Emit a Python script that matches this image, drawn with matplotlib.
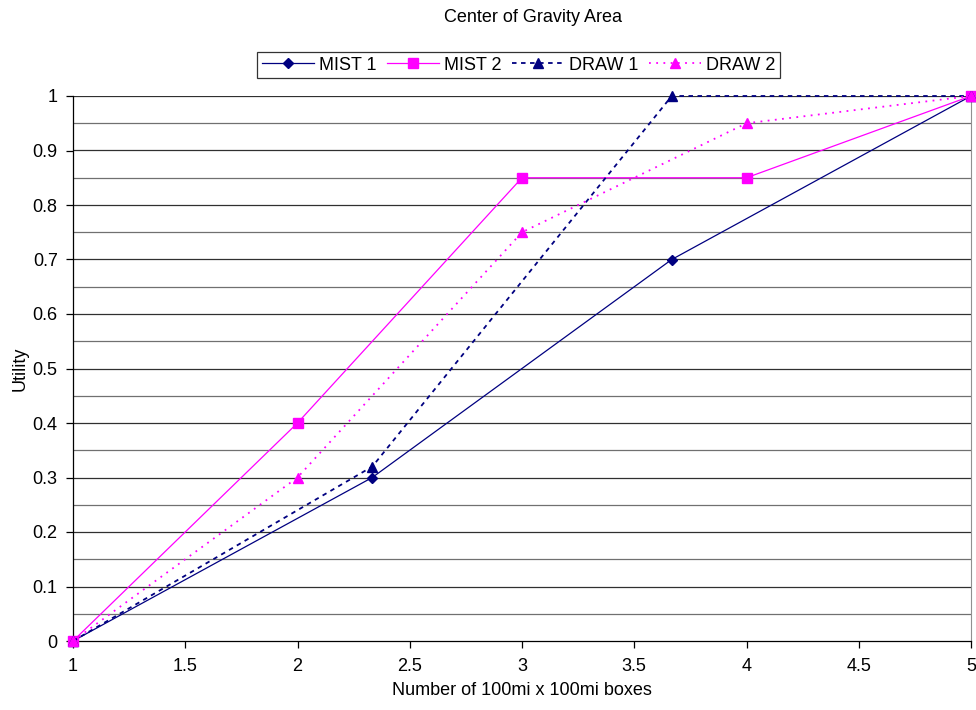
import matplotlib
matplotlib.use("Agg")
import matplotlib.pyplot as plt
import numpy as np

plt.rcParams['font.family'] = ['Liberation Sans', 'DejaVu Sans']

mist1_x = [1, 2.333, 3.667, 5]
mist1_y = [0, 0.30, 0.70, 1.0]
mist2_x = [1, 2, 3, 4, 5]
mist2_y = [0, 0.40, 0.85, 0.85, 1.0]
draw1_x = [1, 2.333, 3.667, 5]
draw1_y = [0, 0.32, 1.0, 1.0]
draw2_x = [1, 2, 3, 4, 5]
draw2_y = [0, 0.30, 0.75, 0.95, 1.0]

navy = '#000080'
mag = '#FF00FF'
FS = 13

fig = plt.figure(figsize=(9.76, 7.10), dpi=100)
ax = fig.add_axes([73/976, 1-641/710, (971-73)/976, (641-96)/710])

for yv in np.arange(0.05, 1.0001, 0.05):
    ax.axhline(yv, color='#303030' if abs(yv*10 - round(yv*10)) < 1e-6 else '#707070', lw=0.9, zorder=1)

ax.plot(mist1_x, mist1_y, color=navy, lw=0.9, marker='D', ms=5, label='MIST 1', zorder=3, clip_on=False)
ax.plot(mist2_x, mist2_y, color=mag, lw=0.9, marker='s', ms=6.5, label='MIST 2', zorder=3, clip_on=False)
ax.plot(draw1_x, draw1_y, color=navy, lw=1.3, ls=(0, (2.5, 2.5)), marker='^', ms=6.5, label='DRAW 1', zorder=3, clip_on=False)
ax.plot(draw2_x, draw2_y, color=mag, lw=1.3, ls=(0, (1, 3)), marker='^', ms=6.5, label='DRAW 2', zorder=3, clip_on=False)

ax.set_xlim(1, 5)
ax.set_ylim(0, 1)
ax.set_xticks(np.arange(1, 5.01, 0.5))
ax.set_xticklabels(['1', '1.5', '2', '2.5', '3', '3.5', '4', '4.5', '5'])
ax.set_yticks(np.arange(0, 1.01, 0.1))
ax.set_yticklabels(['0', '0.1', '0.2', '0.3', '0.4', '0.5', '0.6', '0.7', '0.8', '0.9', '1'])
ax.tick_params(direction='out', length=5, width=0.9, labelsize=FS, colors='black')
ax.tick_params(axis='x', pad=7)
ax.tick_params(axis='y', pad=6)
ax.spines['top'].set_visible(False)
ax.spines['right'].set_color('#909090')
ax.spines['left'].set_linewidth(0.9)
ax.spines['bottom'].set_linewidth(0.9)

ax.set_xlabel('Number of 100mi x 100mi boxes', fontsize=FS, labelpad=5)
ax.set_ylabel('Utility', fontsize=FS, labelpad=3)
fig.text(533/976, 1-17/710, 'Center of Gravity Area', ha='center', va='center', fontsize=FS)

leg = ax.legend(loc='upper center', bbox_to_anchor=(518.5/976, 1-52/710), bbox_transform=fig.transFigure,
                ncol=4, frameon=True, fancybox=False, edgecolor='black', fontsize=FS,
                handlelength=2.9, columnspacing=0.6, handletextpad=0.25, borderpad=0.25,
                borderaxespad=0)
leg.get_frame().set_linewidth(0.9)

fig.savefig('out.png', dpi=100)
